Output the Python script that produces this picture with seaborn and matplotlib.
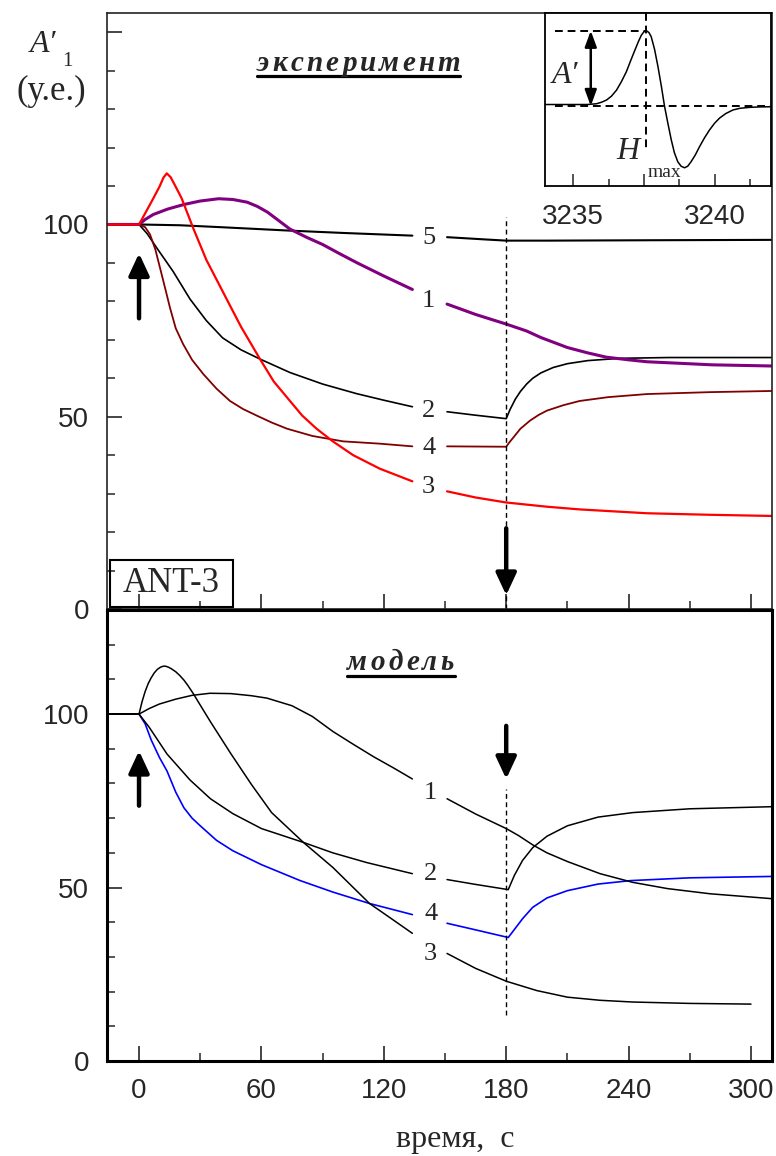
import numpy as np
import matplotlib
matplotlib.use("Agg")
import matplotlib.pyplot as plt
import seaborn as sns
from matplotlib.lines import Line2D
from matplotlib.patches import Rectangle

# ---------------- data ----------------
# experiment (top panel)
exp5_t = [-16, 0, 20, 40, 74, 100, 134, 151, 170, 180, 200, 250, 310]
exp5_v = [100, 100, 99.8, 99.3, 98.4, 97.8, 97.1, 96.7, 96.1, 95.8, 95.8, 95.9, 96.0]

exp1_t = [-16, 0, 3, 7, 14, 22, 30, 39, 46, 53, 58, 63, 68, 74, 82, 90, 98, 107, 120, 134, 151,
          165, 180, 190, 197, 205, 210, 220, 229, 240, 249, 265, 281, 310]
exp1_v = [100, 100, 101.3, 102.6, 104.0, 105.2, 106.1, 106.7, 106.5, 105.8, 104.7, 103.2,
          101.2, 98.8, 96.7, 94.8, 92.5, 90.0, 86.6, 83.1, 79.3, 76.6, 74.1, 72.3, 70.6, 69.0,
          68.0, 66.6, 65.5, 64.8, 64.3, 63.9, 63.5, 63.2]

exp3_t = [-16, 0, 6.2, 10, 12, 13.6, 15.5, 18, 20.9, 26.6, 33, 41, 50, 59.3, 66, 74, 80, 87,
          95, 105, 118, 134, 151, 165, 180, 200, 216, 249, 280, 310]
exp3_v = [100, 100, 106.0, 109.8, 112.2, 113.3, 112.3, 109.8, 106.8, 99.0, 90.8, 82.6, 73.4,
          65.0, 59.2, 54.1, 50.3, 46.9, 43.6, 40.0, 36.5, 33.2, 30.6, 29.0, 27.7, 26.6, 25.9,
          24.9, 24.5, 24.2]

exp2_t = [-16, 0, 4, 8.7, 16.7, 25, 33, 41, 50, 59.3, 74, 90, 106.7, 120, 134, 151, 165, 180,
          182, 184.5, 187, 190, 193, 197, 203, 210, 220, 236, 260, 310]
exp2_v = [100, 100, 97.6, 93.9, 87.8, 80.6, 75.0, 70.5, 67.4, 65.0, 61.5, 58.5, 56.0, 54.3,
          52.6, 51.3, 50.4, 49.5, 52.0, 54.6, 56.6, 58.5, 60.0, 61.4, 62.8, 63.8, 64.6, 65.2,
          65.4, 65.4]

exp4_t = [-16, 0, 3, 5.4, 8, 10.3, 13, 15.2, 18, 21.6, 26, 31.5, 38, 44.6, 51, 57.7, 65, 72.5,
          85, 100, 118, 134, 151, 180, 181.5, 183.5, 187, 191.7, 196, 200, 208, 216, 230, 249,
          280, 310]
exp4_v = [100, 100, 99.3, 97.4, 93.5, 88.7, 83.0, 78.3, 73.0, 68.9, 64.8, 61.1, 57.3, 54.1,
          52.0, 50.3, 48.5, 46.9, 45.0, 43.6, 43.0, 42.3, 42.3, 42.2, 43.3, 44.6, 46.9, 49.0,
          50.5, 51.6, 53.0, 54.1, 55.1, 55.9, 56.4, 56.7]

# model (bottom panel)
mod1_t = [-16, 0, 5, 10, 18, 26, 34.8, 45, 55, 62.7, 75, 85, 95, 105, 115, 125, 134, 151, 165,
          180, 186, 193, 200, 210, 226, 242, 259, 280, 310]
mod1_v = [100, 100, 101.6, 102.9, 104.3, 105.4, 106.0, 105.9, 105.3, 104.6, 102.4, 99.3, 95.0,
          91.3, 87.7, 84.4, 81.3, 75.6, 71.2, 67.0, 65.0, 62.3, 60.0, 57.5, 54.0, 51.5, 49.7,
          48.2, 46.8]

mod3_t = [-16, 0, 1.5, 3, 4.5, 6, 7.5, 9, 10.5, 11.8, 13, 14.5, 16, 18, 20, 22, 24, 26.6, 30,
          35, 40, 45, 55, 65, 80.6, 95, 113, 125, 134, 151, 165, 180, 195, 210, 226, 242, 270,
          300]
mod3_v = [100, 100, 103.6, 106.5, 108.8, 110.5, 111.9, 112.9, 113.5, 113.8, 113.8, 113.5,
          113.0, 112.2, 111.1, 109.8, 108.2, 105.9, 102.6, 97.8, 93.2, 88.6, 79.8, 71.6, 63.0,
          55.8, 45.4, 40.5, 36.8, 31.0, 26.7, 23.0, 20.3, 18.4, 17.5, 17.0, 16.6, 16.4]

mod2_t = [-16, 0, 5, 13.7, 25, 35, 46, 60, 80.6, 95, 111.6, 134, 151, 165, 181, 184, 188, 193,
          200, 210, 225, 242, 270, 310]
mod2_v = [100, 100, 96.2, 88.5, 81.0, 75.6, 71.3, 67.0, 63.0, 60.0, 57.2, 54.0, 52.3, 50.9,
          49.4, 53.5, 57.8, 61.5, 64.8, 67.8, 70.3, 71.6, 72.7, 73.3]

mod4_t = [-16, 0, 3, 6, 10, 13.7, 18, 22, 26, 30, 38, 46, 60, 79, 95, 113, 134, 151, 165, 181,
          184, 188, 193, 200, 210, 225, 241, 270, 310]
mod4_v = [100, 100, 97.2, 92.5, 87.5, 83.6, 77.5, 73.0, 70.0, 67.8, 63.6, 60.6, 56.6, 52.0,
          48.7, 45.4, 42.2, 39.7, 37.8, 35.6, 37.9, 41.0, 44.3, 47.0, 49.1, 51.0, 52.0, 52.8,
          53.2]

# inset: EPR derivative line
ins_f = [3234.0, 3235.0, 3235.5, 3235.82, 3236.0, 3236.18, 3236.35, 3236.53, 3236.7, 3236.88,
         3237.03, 3237.18, 3237.3, 3237.41, 3237.5, 3237.59, 3237.68, 3237.76, 3237.88, 3238.0,
         3238.12, 3238.23, 3238.35, 3238.47, 3238.58, 3238.7, 3238.82, 3238.94, 3239.05,
         3239.17, 3239.32, 3239.47, 3239.65, 3239.82, 3240.0, 3240.18, 3240.4, 3240.65,
         3240.9, 3241.24, 3241.6, 3241.97]
ins_v = [0.02, 0.02, 0.02, 0.03, 0.05, 0.08, 0.13, 0.21, 0.32, 0.455, 0.6, 0.74, 0.85, 0.94,
         0.985, 1.0, 0.975, 0.92, 0.75, 0.52, 0.26, 0.0, -0.23, -0.45, -0.62, -0.74, -0.80,
         -0.82, -0.80, -0.74, -0.65, -0.54, -0.42, -0.32, -0.23, -0.16, -0.10, -0.053, -0.03,
         -0.018, -0.012, -0.01]

x_ticks = [0, 60, 120, 180, 240, 300]
x_tick_labels = ["0", "60", "120", "180", "240", "300"]
ins_ticks = [3235, 3237.5, 3240]
ins_tick_labels = ["3235", "", "3240"]

curve_labels = ["1", "2", "3", "4", "5"]

# ---------------- style ----------------
sns.set_style("ticks")
plt.rcParams['font.family'] = ['Liberation Serif', 'DejaVu Serif']
plt.rcParams['xtick.direction'] = 'in'
plt.rcParams['ytick.direction'] = 'in'

W, H = 776, 1156
fig = plt.figure(figsize=(W / 100, H / 100), dpi=100)


def fx(px):
    return px / W


def fy(py):
    return 1 - py / H


ax1 = fig.add_axes([fx(107), fy(609), 665 / W, 596 / H])
ax2 = fig.add_axes([fx(107), fy(1061), 665 / W, 451 / H])

XLIM = (-15.7, 310.3)
GAP = (134, 151)
SANS = ['Liberation Sans', 'DejaVu Sans']


def draw(ax, t, v, color, lw):
    t = np.asarray(t, float)
    v = np.asarray(v, float)
    for m in (t <= GAP[0], t >= GAP[1]):
        sns.lineplot(x=t[m], y=v[m], ax=ax, color=color, lw=lw, estimator=None,
                     sort=False, legend=False)


# top panel
draw(ax1, exp5_t, exp5_v, 'black', 1.5)
draw(ax1, exp2_t, exp2_v, 'black', 1.2)
draw(ax1, exp4_t, exp4_v, '#800000', 1.3)
draw(ax1, exp1_t, exp1_v, '#800080', 2.2)
draw(ax1, exp3_t, exp3_v, '#ff0000', 1.6)

# bottom panel
draw(ax2, mod4_t, mod4_v, '#0000ff', 1.2)
draw(ax2, mod1_t, mod1_v, 'black', 1.1)
draw(ax2, mod2_t, mod2_v, 'black', 1.1)
draw(ax2, mod3_t, mod3_v, 'black', 1.1)

for ax, ylim, lw_sp, col_sp in ((ax1, (0, 155), 1.2, '#222222'), (ax2, (0, 130), 2.2, 'black')):
    ax.set_xlim(*XLIM)
    ax.set_ylim(*ylim)
    ax.set_xlabel("")
    ax.set_ylabel("")
    for s in ax.spines.values():
        s.set_visible(True)
        s.set_linewidth(lw_sp)
        s.set_color(col_sp)
    ax.set_xticks(x_ticks)
    ax.set_xticks(np.arange(30, 310, 60), minor=True)
    ax.set_yticks(np.arange(0, ylim[1] + 1, 10), minor=True)
    ax.tick_params(which='major', length=11, width=1.2, labelsize=20, pad=13)
    ax.tick_params(which='minor', length=6, width=1.1)
    ax.tick_params(axis='both', which='both', top=False, right=False)
    ax.set_facecolor('white')

ax1.set_yticks([0, 50, 100, 150])
ax1.set_yticklabels(["0", "50", "100", ""], family=SANS)
ax1.tick_params(axis='x', labelbottom=False)
ax2.set_yticks([0, 50, 100])
ax2.set_yticklabels(["0", "50", "100"], family=SANS)
ax2.set_xticklabels(x_tick_labels, family=SANS)
ax2.tick_params(axis='x', pad=12)

# dashed verticals at 180 s
ax1.plot([180, 180], [0, 102], color='black', lw=1.0, ls=(0, (3.5, 2.5)))
ax2.plot([180, 180], [13.2, 78.4], color='black', lw=1.0, ls=(0, (3.5, 2.5)))

# arrows
arr = dict(arrowstyle='-|>,head_length=0.6,head_width=0.28', lw=3.2, color='black',
           mutation_scale=22, shrinkA=0, shrinkB=0)
ax1.annotate('', xy=(0, 92.5), xytext=(0, 75.6), arrowprops=arr)
ax1.annotate('', xy=(180, 3.6), xytext=(180, 21.0), arrowprops=arr)
ax2.annotate('', xy=(0, 89.4), xytext=(0, 73.6), arrowprops=arr)
ax2.annotate('', xy=(180, 81.3), xytext=(180, 96.6), arrowprops=arr)

# curve number labels
top_lab_y = {"5": 96.6, "1": 80.1, "2": 51.5, "4": 42.0, "3": 31.6}
bot_lab_y = {"1": 77.3, "2": 54.0, "4": 42.5, "3": 30.7}
for k in curve_labels:
    if k in top_lab_y:
        ax1.text(142, top_lab_y[k], k, fontsize=19, ha='center', va='center')
    if k in bot_lab_y:
        ax2.text(143, bot_lab_y[k], k, fontsize=19, ha='center', va='center')

# ANT-3 box
ax1.add_patch(Rectangle((3 / 665, 2 / 596), 123 / 665, 47 / 596, transform=ax1.transAxes,
                        fill=False, edgecolor='black', lw=1.5, zorder=5))
ax1.text((3 + 61.5) / 665, (2 + 23.5) / 596, "ANT-3", transform=ax1.transAxes,
         fontsize=25, ha='center', va='center', zorder=6)


# panel titles: letter-spaced bold italic with underline
def tracked_text(word, x0, x1, y_base, size):
    renderer = fig.canvas.get_renderer()
    objs, widths = [], []
    for ch in word:
        t = fig.text(0, fy(y_base), ch, fontsize=size, fontweight='bold', style='italic',
                     ha='left', va='baseline')
        widths.append(t.get_window_extent(renderer).width)
        objs.append(t)
    gap = ((x1 - x0) - sum(widths)) / (len(word) - 1)
    x = x0
    for t, w in zip(objs, widths):
        t.set_x(fx(x))
        x += w + gap


tracked_text("эксперимент", 257, 460, 71, 21)
fig.add_artist(Line2D([fx(257), fx(460)], [fy(75.5), fy(75.5)], color='black', lw=2.3))
tracked_text("модель", 347, 454, 670, 21)
fig.add_artist(Line2D([fx(347), fx(455)], [fy(676), fy(676)], color='black', lw=2.3))

# y-axis label
fig.text(fx(43), fy(44), "A′", fontsize=23, style='italic', ha='center', va='center')
fig.text(fx(67), fy(61), "1", fontsize=15, ha='center', va='center')
fig.text(fx(51), fy(91), "(у.е.)", fontsize=25, ha='center', va='center')

# x-axis label
fig.text(fx(455), fy(1140), "время,  с", fontsize=23, ha='center', va='center')

# ---------------- inset ----------------
axi = fig.add_axes([fx(545), fy(186), 226 / W, 173 / H])
axi.set_zorder(10)
axi.set_facecolor('white')
sns.lineplot(x=ins_f, y=ins_v, ax=axi, color='black', lw=1.1, estimator=None, sort=False,
             legend=False)
axi.set_xlim(3234, 3242)
axi.set_ylim(-1.062, 1.235)
axi.set_xlabel("")
axi.set_ylabel("")
for s in axi.spines.values():
    s.set_visible(True)
    s.set_linewidth(1.3)
    s.set_color('black')
axi.set_yticks([])
axi.set_xticks(ins_ticks)
axi.set_xticklabels(ins_tick_labels, family=SANS)
axi.set_xticks([3236.25, 3238.75, 3241.25], minor=True)
axi.tick_params(axis='x', which='major', length=9, width=1.1, labelsize=20, pad=13,
                top=False)
axi.tick_params(axis='x', which='minor', length=5, width=1.1, top=False)

dash = (0, (4, 2.5))
axi.plot([3234.35, 3241.95], [0, 0], color='black', lw=1.4, ls=dash)
axi.plot([3234.35, 3237.55], [1, 1], color='black', lw=1.4, ls=dash)
axi.plot([3237.59, 3237.59], [1.235, -0.6], color='black', lw=1.4, ls=dash)
axi.annotate('', xy=(3235.62, 0.0), xytext=(3235.62, 1.0),
             arrowprops=dict(arrowstyle='<|-|>,head_length=0.6,head_width=0.22', lw=1.8,
                             color='black', mutation_scale=16, shrinkA=0, shrinkB=0))
axi.text(3234.71, 0.40, "A′", fontsize=23, style='italic', ha='center', va='center')
axi.text(3236.93, -0.60, "H", fontsize=23, style='italic', ha='center', va='center')
axi.text(3238.23, -0.88, "max", fontsize=14, ha='center', va='center')

fig.savefig("out.png", dpi=100, facecolor='white')
